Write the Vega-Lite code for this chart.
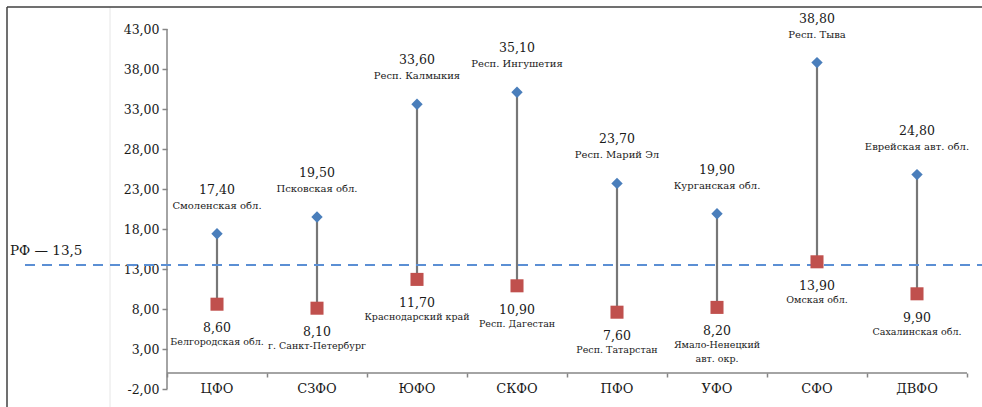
{
  "$schema": "https://vega.github.io/schema/vega-lite/v6.json",
  "width": 975,
  "height": 400,
  "autosize": {"type": "none"},
  "padding": {"left": 7, "top": 7, "right": 0, "bottom": 0},
  "background": "white",
  "config": {"view": {"stroke": null}, "font": "DejaVu Serif", "text": {"color": "#1a1a1a", "lineBreak": "\n", "font": "DejaVu Serif"}},
  "data": {
    "values": [
      {"idx": 1, "cat": "ЦФО", "hi": 17.4, "hi_t": "17,40", "hi_name": "Смоленская обл.", "lo": 8.6, "lo_t": "8,60", "lo_name": "Белгородская обл."},
      {"idx": 2, "cat": "СЗФО", "hi": 19.5, "hi_t": "19,50", "hi_name": "Псковская обл.", "lo": 8.1, "lo_t": "8,10", "lo_name": "г. Санкт-Петербург"},
      {"idx": 3, "cat": "ЮФО", "hi": 33.6, "hi_t": "33,60", "hi_name": "Респ. Калмыкия", "lo": 11.7, "lo_t": "11,70", "lo_name": "Краснодарский край"},
      {"idx": 4, "cat": "СКФО", "hi": 35.1, "hi_t": "35,10", "hi_name": "Респ. Ингушетия", "lo": 10.9, "lo_t": "10,90", "lo_name": "Респ. Дагестан"},
      {"idx": 5, "cat": "ПФО", "hi": 23.7, "hi_t": "23,70", "hi_name": "Респ. Марий Эл", "lo": 7.6, "lo_t": "7,60", "lo_name": "Респ. Татарстан"},
      {"idx": 6, "cat": "УФО", "hi": 19.9, "hi_t": "19,90", "hi_name": "Курганская обл.", "lo": 8.2, "lo_t": "8,20", "lo_name": "Ямало-Ненецкий\nавт. окр."},
      {"idx": 7, "cat": "СФО", "hi": 38.8, "hi_t": "38,80", "hi_name": "Респ. Тыва", "lo": 13.9, "lo_t": "13,90", "lo_name": "Омская обл."},
      {"idx": 8, "cat": "ДВФО", "hi": 24.8, "hi_t": "24,80", "hi_name": "Еврейская авт. обл.", "lo": 9.9, "lo_t": "9,90", "lo_name": "Сахалинская обл."}
    ]
  },
  "layer": [
    {
      "mark": {"type": "rule", "color": "#777777", "strokeWidth": 2.2},
      "encoding": {
        "x": {"field": "idx", "type": "quantitative", "title": null, "scale": {"domain": [-1.1, 8.65], "nice": false, "zero": false},
          "axis": {"values": [0.5, 1.5, 2.5, 3.5, 4.5, 5.5, 6.5, 7.5, 8.5], "labels": false, "domain": false, "ticks": true, "tickSize": 4, "tickColor": "#868686", "tickWidth": 1.5, "grid": false, "offset": -34, "title": null}},
        "y": {"field": "hi", "type": "quantitative", "title": null, "scale": {"domain": [-4.25, 45.75], "nice": false, "zero": false},
          "axis": {"values": [-2, 3, 8, 13, 18, 23, 28, 33, 38, 43], "labelExpr": "replace(replace(format(datum.value, '.2f'), '.', ','), '−', '-')", "domain": false, "ticks": true, "tickSize": 5, "tickColor": "#868686", "tickWidth": 1.5, "grid": false, "offset": -160, "labelFont": "DejaVu Serif", "labelFontSize": 12.5, "labelColor": "#1a1a1a", "labelPadding": 3, "title": null}},
        "y2": {"field": "lo"}
      }
    },
    {
      "data": {"values": [{}]},
      "mark": {"type": "rule", "color": "#e6e6e6", "strokeWidth": 1},
      "encoding": {
        "x": {"datum": -0.07, "type": "quantitative", "title": null},
        "y": {"datum": -4.25, "type": "quantitative", "title": null},
        "y2": {"datum": 45.75}
      }
    },
    {
      "data": {"values": [{}]},
      "mark": {"type": "rule", "color": "#404040", "strokeWidth": 1.5},
      "encoding": {
        "x": {"datum": -1.1, "type": "quantitative", "title": null},
        "x2": {"datum": 8.65},
        "y": {"datum": 45.75, "type": "quantitative", "title": null}
      }
    },
    {
      "data": {"values": [{}]},
      "mark": {"type": "rule", "color": "#404040", "strokeWidth": 1.5},
      "encoding": {
        "x": {"datum": -1.1, "type": "quantitative", "title": null},
        "y": {"datum": -4.25, "type": "quantitative", "title": null},
        "y2": {"datum": 45.75}
      }
    },
    {
      "data": {"values": [{}]},
      "mark": {"type": "rule", "color": "#868686", "strokeWidth": 1.5},
      "encoding": {
        "x": {"datum": 0.5, "type": "quantitative", "title": null},
        "y": {"datum": -2, "type": "quantitative", "title": null},
        "y2": {"datum": 43}
      }
    },
    {
      "data": {"values": [{}]},
      "mark": {"type": "rule", "color": "#868686", "strokeWidth": 1.5},
      "encoding": {
        "x": {"datum": 0.5, "type": "quantitative", "title": null},
        "x2": {"datum": 8.5},
        "y": {"datum": 0, "type": "quantitative", "title": null}
      }
    },
    {
      "data": {"values": [{}]},
      "mark": {"type": "rule", "color": "#5b8fd4", "strokeWidth": 2.2, "strokeDash": [10, 7]},
      "encoding": {
        "x": {"datum": -0.92, "type": "quantitative", "title": null},
        "x2": {"datum": 8.65},
        "y": {"datum": 13.5, "type": "quantitative", "title": null}
      }
    },
    {
      "data": {"values": [{"t": "РФ — 13,5"}]},
      "mark": {"type": "text", "align": "left", "baseline": "middle", "dy": -14, "fontSize": 13.5},
      "encoding": {
        "x": {"datum": -1.07, "type": "quantitative", "title": null},
        "y": {"datum": 13.5, "type": "quantitative", "title": null},
        "text": {"field": "t"}
      }
    },
    {
      "mark": {"type": "point", "shape": "diamond", "filled": true, "size": 130, "color": "#4a7ebb", "opacity": 1},
      "encoding": {
        "x": {"field": "idx", "type": "quantitative", "title": null},
        "y": {"field": "hi", "type": "quantitative", "title": null}
      }
    },
    {
      "mark": {"type": "point", "shape": "square", "filled": true, "size": 170, "color": "#c0504d", "opacity": 1},
      "encoding": {
        "x": {"field": "idx", "type": "quantitative", "title": null},
        "y": {"field": "lo", "type": "quantitative", "title": null}
      }
    },
    {
      "mark": {"type": "text", "baseline": "middle", "dy": -44, "fontSize": 12.5},
      "encoding": {
        "x": {"field": "idx", "type": "quantitative", "title": null},
        "y": {"field": "hi", "type": "quantitative", "title": null},
        "text": {"field": "hi_t"}
      }
    },
    {
      "mark": {"type": "text", "baseline": "middle", "dy": -28, "fontSize": 10},
      "encoding": {
        "x": {"field": "idx", "type": "quantitative", "title": null},
        "y": {"field": "hi", "type": "quantitative", "title": null},
        "text": {"field": "hi_name"}
      }
    },
    {
      "mark": {"type": "text", "baseline": "middle", "dy": 24, "fontSize": 12.5},
      "encoding": {
        "x": {"field": "idx", "type": "quantitative", "title": null},
        "y": {"field": "lo", "type": "quantitative", "title": null},
        "text": {"field": "lo_t"}
      }
    },
    {
      "mark": {"type": "text", "baseline": "top", "dy": 33, "fontSize": 9.5, "lineHeight": 14},
      "encoding": {
        "x": {"field": "idx", "type": "quantitative", "title": null},
        "y": {"field": "lo", "type": "quantitative", "title": null},
        "text": {"field": "lo_name"}
      }
    },
    {
      "mark": {"type": "text", "baseline": "middle", "fontSize": 13},
      "encoding": {
        "x": {"field": "idx", "type": "quantitative", "title": null},
        "y": {"datum": -2, "type": "quantitative", "title": null},
        "text": {"field": "cat"}
      }
    }
  ]
}
